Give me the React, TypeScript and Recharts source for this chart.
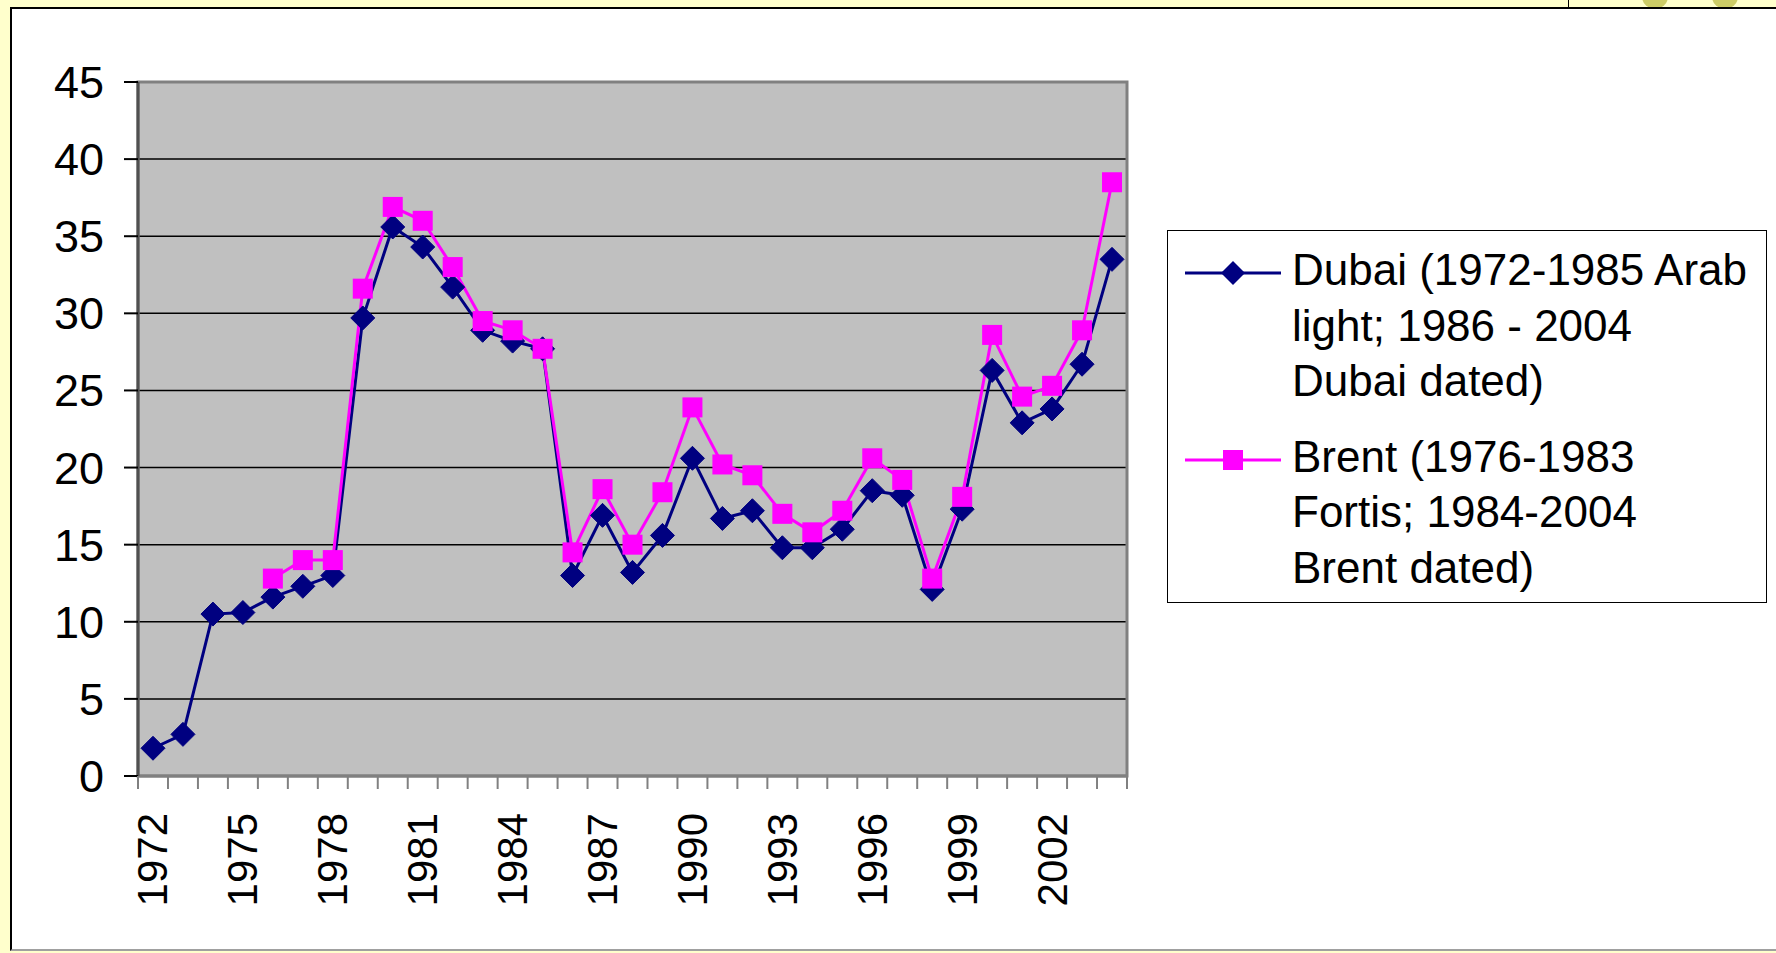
import React from 'react';
import { LineChart, Line, XAxis, YAxis, CartesianGrid, ReferenceArea } from 'recharts';

const years = [
  '1972', '1973', '1974', '1975', '1976', '1977', '1978', '1979', '1980', '1981', '1982',
  '1983', '1984', '1985', '1986', '1987', '1988', '1989', '1990', '1991', '1992', '1993',
  '1994', '1995', '1996', '1997', '1998', '1999', '2000', '2001', '2002', '2003', '2004',
];

const dubai = [
  1.8, 2.7, 10.5, 10.6, 11.6, 12.3, 13.0, 29.7, 35.6, 34.3, 31.7,
  28.9, 28.2, 27.7, 13.0, 16.9, 13.2, 15.6, 20.6, 16.7, 17.2, 14.8,
  14.8, 16.0, 18.5, 18.2, 12.1, 17.3, 26.3, 22.9, 23.8, 26.7, 33.5,
];

const brent = [
  null, null, null, null, 12.8, 14.0, 14.0, 31.6, 36.9, 36.0, 33.0,
  29.5, 28.9, 27.7, 14.5, 18.6, 15.0, 18.4, 23.9, 20.2, 19.5, 17.0,
  15.8, 17.2, 20.6, 19.2, 12.8, 18.1, 28.6, 24.6, 25.3, 28.9, 38.5,
];

const yTicks = [0, 5, 10, 15, 20, 25, 30, 35, 40, 45];
const xTickLabels = ['1972', '1975', '1978', '1981', '1984', '1987', '1990', '1993', '1996', '1999', '2002'];

const dubaiName = ['Dubai (1972-1985 Arab', 'light; 1986 - 2004', 'Dubai dated)'];
const brentName = ['Brent (1976-1983', 'Fortis; 1984-2004', 'Brent dated)'];

const data = years.map((y, i) => ({ year: y, dubai: dubai[i], brent: brent[i] }));

const FONT = '"Liberation Sans", Arial, Helvetica, sans-serif';
const NAVY = '#000080';
const MAGENTA = '#FF00FF';

const XTick = (props: any) => {
  const { x, y, payload, index, visibleTicksCount } = props;
  const half = payload && payload.offset ? payload.offset : 15;
  const showLabel = xTickLabels.includes(String(payload.value));
  const isLast = index === visibleTicksCount - 1;
  const ty = y + 37;
  return (
    <g>
      <line x1={x - half} x2={x - half} y1={y} y2={y + 13} stroke="#808080" strokeWidth={2} />
      {isLast && <line x1={x + half} x2={x + half} y1={y} y2={y + 13} stroke="#808080" strokeWidth={2} />}
      {showLabel && (
        <text
          x={x}
          y={ty}
          transform={`rotate(-90 ${x} ${ty})`}
          textAnchor="end"
          dominantBaseline="central"
          fontSize={42}
          fontFamily={FONT}
          fill="#000"
        >
          {payload.value}
        </text>
      )}
    </g>
  );
};

const DiamondDot = (p: any) => {
  const { cx, cy, index } = p;
  if (cx == null || cy == null || Number.isNaN(cy)) return <g key={`d-${index}`} />;
  const r = 12;
  return (
    <path
      key={`d-${index}`}
      d={`M${cx},${cy - r}L${cx + r},${cy}L${cx},${cy + r}L${cx - r},${cy}Z`}
      fill={NAVY}
      stroke={NAVY}
      strokeWidth={1}
    />
  );
};

const SquareDot = (p: any) => {
  const { cx, cy, index, value } = p;
  if (cx == null || cy == null || value == null || Number.isNaN(cy)) return <g key={`s-${index}`} />;
  const h = 10;
  return <rect key={`s-${index}`} x={cx - h} y={cy - h} width={2 * h} height={2 * h} fill={MAGENTA} />;
};

const LegendEntry = ({ lines, color, marker }: { lines: string[]; color: string; marker: 'diamond' | 'square' }) => (
  <div style={{ position: 'relative', paddingLeft: 124 }}>
    <svg width={100} height={30} style={{ position: 'absolute', left: 15, top: 16 }}>
      <line x1={2} x2={98} y1={15} y2={15} stroke={color} strokeWidth={3} />
      {marker === 'diamond' ? (
        <path d="M50,3L62,15L50,27L38,15Z" fill={color} />
      ) : (
        <rect x={40} y={5} width={20} height={20} fill={color} />
      )}
    </svg>
    {lines.map((l, i) => (
      <div key={i} style={{ whiteSpace: 'nowrap', height: 55.5, lineHeight: '55.5px' }}>
        {l}
      </div>
    ))}
  </div>
);

export default function App() {
  return (
    <div
      style={{
        position: 'absolute',
        left: 0,
        top: 0,
        width: 1776,
        height: 953,
        background: '#FFFFCC',
        overflow: 'hidden',
        fontFamily: FONT,
      }}
    >
      <div style={{ position: 'absolute', left: 1642, top: -16, width: 26, height: 25, borderRadius: '50%', background: '#CCCC66' }} />
      <div style={{ position: 'absolute', left: 1712, top: -16, width: 26, height: 25, borderRadius: '50%', background: '#CCCC66' }} />
      <div style={{ position: 'absolute', left: 1568, top: 0, width: 1, height: 8, background: '#000' }} />
      <div
        style={{
          position: 'absolute',
          left: 10,
          top: 7,
          width: 1770,
          height: 940,
          background: '#FFFFFF',
          borderLeft: '2px solid #000',
          borderTop: '2px solid #000',
          borderBottom: '2px solid #A0A0A0',
        }}
      />
      <div style={{ position: 'absolute', left: 0, top: 0 }}>
        <LineChart width={1776} height={953} data={data} margin={{ top: 82, right: 649, bottom: 0, left: 0 }}>
          <CartesianGrid vertical={false} stroke="#000" strokeWidth={1.5} fill="#C0C0C0" fillOpacity={1} />
          <ReferenceArea
            x1="1972"
            x2="2004"
            y1={0}
            y2={45}
            fill="none"
            fillOpacity={0}
            stroke="#808080"
            strokeWidth={3}
            ifOverflow="visible"
          />
          <XAxis
            dataKey="year"
            type="category"
            scale="band"
            interval={0}
            height={177}
            tickSize={0}
            tickMargin={0}
            tickLine={false}
            axisLine={{ stroke: '#808080', strokeWidth: 3 }}
            tick={(p: any) => <XTick {...p} />}
          />
          <YAxis
            type="number"
            domain={[0, 45]}
            ticks={yTicks}
            interval={0}
            width={138}
            tickSize={14}
            tickMargin={20}
            axisLine={{ stroke: '#505050', strokeWidth: 3 }}
            tickLine={{ stroke: '#000', strokeWidth: 2 }}
            tick={{ fontSize: 45, fill: '#000', fontFamily: FONT }}
          />
          <Line
            type="linear"
            dataKey="dubai"
            stroke={NAVY}
            strokeWidth={3}
            dot={DiamondDot}
            activeDot={false}
            isAnimationActive={false}
          />
          <Line
            type="linear"
            dataKey="brent"
            stroke={MAGENTA}
            strokeWidth={3}
            dot={SquareDot}
            activeDot={false}
            connectNulls={false}
            isAnimationActive={false}
          />
        </LineChart>
      </div>
      <div
        style={{
          position: 'absolute',
          left: 1167,
          top: 230,
          width: 600,
          height: 373,
          boxSizing: 'border-box',
          border: '1.5px solid #000',
          background: '#fff',
          paddingTop: 11,
          fontSize: 44,
          color: '#000',
        }}
      >
        <LegendEntry lines={dubaiName} color={NAVY} marker="diamond" />
        <div style={{ height: 20 }} />
        <LegendEntry lines={brentName} color={MAGENTA} marker="square" />
      </div>
    </div>
  );
}
